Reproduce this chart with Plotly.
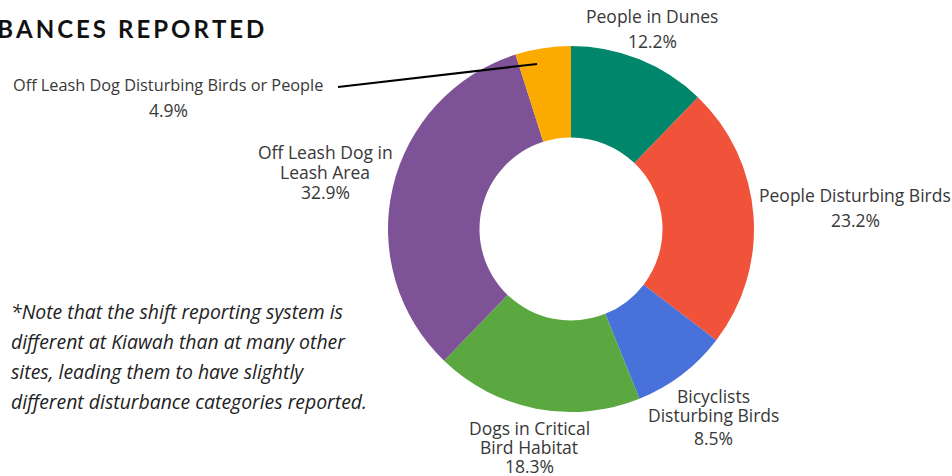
import plotly.graph_objects as go

# Disturbance categories, clockwise from 12 o'clock
categories = [
    "People in Dunes",
    "People Disturbing Birds",
    "Bicyclists Disturbing Birds",
    "Dogs in Critical Bird Habitat",
    "Off Leash Dog in Leash Area",
    "Off Leash Dog Disturbing Birds or People",
]
shares = [12.2, 23.2, 8.5, 18.3, 32.9, 4.9]
colors = ["#00866B", "#F0523A", "#4872D9", "#5BA840", "#7E5296", "#FBAA00"]

# How each label is broken over lines
label_lines = [
    ["People in Dunes"],
    ["People Disturbing Birds"],
    ["Bicyclists", "Disturbing Birds"],
    ["Dogs in Critical", "Bird Habitat"],
    ["Off Leash Dog in", "Leash Area"],
    ["Off Leash Dog Disturbing Birds or People"],
]

note_lines = [
    "*Note that the shift reporting system is",
    "different at Kiawah than at many other",
    "sites, leading them to have slightly",
    "different disturbance categories reported.",
]

W, H = 952, 476
FONT = "Open Sans"
TXT = "#383838"

fig = go.Figure(
    go.Pie(
        labels=categories,
        values=shares,
        marker=dict(colors=colors, line=dict(width=0)),
        hole=0.5,
        sort=False,
        direction="clockwise",
        rotation=0,
        textinfo="none",
        hoverinfo="label+percent",
        showlegend=False,
        domain=dict(x=[388 / W, 754 / W], y=[(H - 412) / H, (H - 46) / H]),
    )
)

def px(x):
    return x / W

def py(y):
    return 1 - y / H

annotations = []

# label anchor (center x, line y's, percent y, font size) in pixels
label_pos = [
    (652, [16], 41, 17.5),
    (855, [195], 220, 17.5),
    (713, [396, 415], 438, 17.5),
    (529, [428, 447], 466, 17.5),
    (325, [152, 172], 192, 17.5),
    (168, [85], 110, 16.3),
]

for lines, val, (cx, ys, yp, fs) in zip(label_lines, shares, label_pos):
    for t, yy in zip(lines, ys):
        annotations.append(dict(
            x=px(cx), y=py(yy), xref="paper", yref="paper", text=t,
            showarrow=False, xanchor="center", yanchor="middle",
            font=dict(family=FONT, size=fs, color=TXT),
        ))
    annotations.append(dict(
        x=px(cx), y=py(yp), xref="paper", yref="paper", text=f"{val:.1f}%",
        showarrow=False, xanchor="center", yanchor="middle",
        font=dict(family=FONT, size=17.5, color=TXT),
    ))

# Title (partially cut by the left edge), letter-spaced
title = "DISTURBANCES REPORTED"
spaced = "\u2002".join("\u2009".join(word) for word in title.split(" "))
annotations.append(dict(
    x=px(266), y=py(28), xref="paper", yref="paper", text=f"<b>{spaced}</b>",
    showarrow=False, xanchor="right", yanchor="middle",
    font=dict(family="Lato", size=24, color="#111111", weight=900),
))

# Italic note, one annotation per line
for i, line in enumerate(note_lines):
    annotations.append(dict(
        x=px(9), y=py(311 + 30 * i), xref="paper", yref="paper",
        text=f"<i>{line}</i>", showarrow=False, xanchor="left", yanchor="middle",
        font=dict(family=FONT, size=19.4, color="#222222"),
    ))

fig.update_layout(
    width=W,
    height=H,
    margin=dict(l=0, r=0, t=0, b=0),
    paper_bgcolor="white",
    plot_bgcolor="white",
    annotations=annotations,
    shapes=[dict(
        type="line", xref="paper", yref="paper",
        x0=px(338), y0=py(87), x1=px(537), y1=py(64),
        line=dict(color="black", width=2),
    )],
)

fig.write_html("out.html")
